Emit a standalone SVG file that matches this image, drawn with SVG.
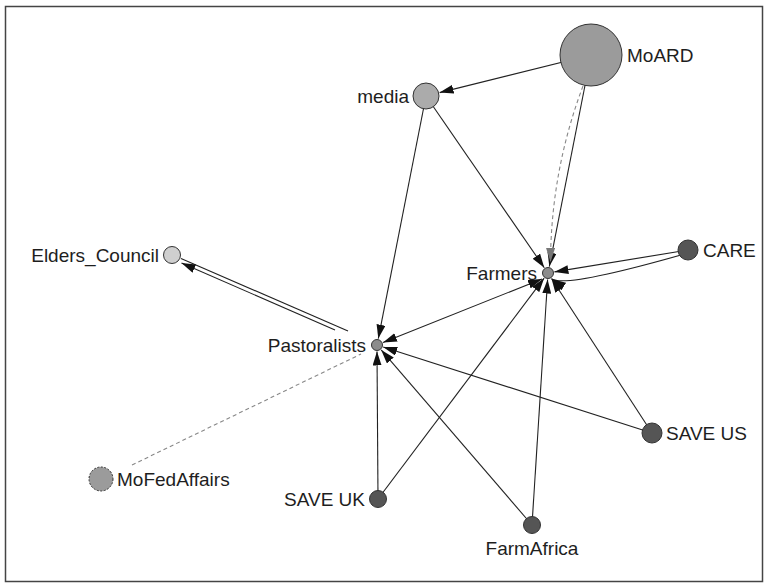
<svg xmlns="http://www.w3.org/2000/svg" width="768" height="588" viewBox="0 0 768 588">
<style>
.lbl{font-family:"Liberation Sans",Arial,sans-serif;font-size:19px;fill:#1e1e1e}
.e{stroke:#222;stroke-width:1.1;fill:none}
.d{stroke:#888;stroke-width:1.1;fill:none;stroke-dasharray:4,3}
.n{stroke:#333;stroke-width:1}
</style>
<defs>
<marker id="ar" markerUnits="userSpaceOnUse" markerWidth="14" markerHeight="9" refX="14" refY="4.5" orient="auto-start-reverse" viewBox="0 0 14 9"><path d="M0,0 L14,4.5 L0,9 z" fill="#111"/></marker>
<marker id="ag" markerUnits="userSpaceOnUse" markerWidth="14" markerHeight="9" refX="14" refY="4.5" orient="auto" viewBox="0 0 14 9"><path d="M0,0 L14,4.5 L0,9 z" fill="#777"/></marker>
</defs>
<rect x="5.5" y="6.5" width="757" height="575" fill="#fff" stroke="#444" stroke-width="1.5"/>
<g id="connectors">
<line class="e" x1="591" y1="55" x2="439.6" y2="92.6" marker-end="url(#ar)"/>
<line class="e" x1="591" y1="55" x2="549.3" y2="266.6" marker-end="url(#ar)"/>
<path class="d" d="M583,86 Q551,171 550.5,262" marker-end="url(#ag)"/>
<line class="e" x1="426" y1="96" x2="378.3" y2="338.6" marker-end="url(#ar)"/>
<line class="e" x1="426" y1="96" x2="544.3" y2="267.7" marker-end="url(#ar)"/>
<line class="e" x1="688" y1="250" x2="554.4" y2="271.9" marker-end="url(#ar)"/>
<path class="e" d="M688,253 Q566,288 552,279" marker-end="url(#ar)"/>
<line class="e" x1="383" y1="342.5" x2="542" y2="279" marker-start="url(#ar)" marker-end="url(#ar)"/>
<line class="e" x1="652" y1="433" x2="383.2" y2="347" marker-end="url(#ar)"/>
<line class="e" x1="652" y1="433" x2="551.5" y2="278.5" marker-end="url(#ar)"/>
<line class="e" x1="378" y1="499" x2="377" y2="351.5" marker-end="url(#ar)"/>
<line class="e" x1="378" y1="499" x2="544.1" y2="278.2" marker-end="url(#ar)"/>
<line class="e" x1="532" y1="525" x2="381.2" y2="349.9" marker-end="url(#ar)"/>
<line class="e" x1="532" y1="525" x2="547.6" y2="279.5" marker-end="url(#ar)"/>
<line class="e" x1="348" y1="331" x2="181" y2="258.5"/>
<line class="e" x1="335" y1="330" x2="181.5" y2="263" marker-end="url(#ar)"/>
<line class="d" x1="132" y1="465" x2="361" y2="354"/>
</g>
<g id="MoARD"><circle class="n" cx="591" cy="55" r="31" fill="#9b9b9b"/><text class="lbl" x="627" y="62">MoARD</text></g>
<g id="media"><circle class="n" cx="426" cy="96" r="13" fill="#ababab"/><text class="lbl" x="409" y="103" text-anchor="end">media</text></g>
<g id="Farmers"><circle class="n" cx="548" cy="273" r="5.5" fill="#8c8c8c"/><text class="lbl" x="537" y="280" text-anchor="end">Farmers</text></g>
<g id="CARE"><circle class="n" cx="688" cy="250" r="10" fill="#555"/><text class="lbl" x="703" y="257">CARE</text></g>
<g id="Pastoralists"><circle class="n" cx="377" cy="345" r="5.5" fill="#8c8c8c"/><text class="lbl" x="366" y="352" text-anchor="end">Pastoralists</text></g>
<g id="Elders_Council"><circle class="n" cx="172" cy="255" r="8.5" fill="#cfcfcf"/><text class="lbl" x="159" y="262" text-anchor="end">Elders_Council</text></g>
<g id="MoFedAffairs"><circle class="n" cx="101" cy="479" r="12" fill="#9b9b9b" stroke-dasharray="2,1.5"/><text class="lbl" x="117" y="486">MoFedAffairs</text></g>
<g id="SAVE_UK"><circle class="n" cx="378" cy="499" r="8.5" fill="#555"/><text class="lbl" x="365" y="506" text-anchor="end">SAVE UK</text></g>
<g id="SAVE_US"><circle class="n" cx="652" cy="433" r="10" fill="#555"/><text class="lbl" x="666" y="440">SAVE US</text></g>
<g id="FarmAfrica"><circle class="n" cx="532" cy="525" r="8.5" fill="#555"/><text class="lbl" x="532" y="555" text-anchor="middle">FarmAfrica</text></g>
</svg>
